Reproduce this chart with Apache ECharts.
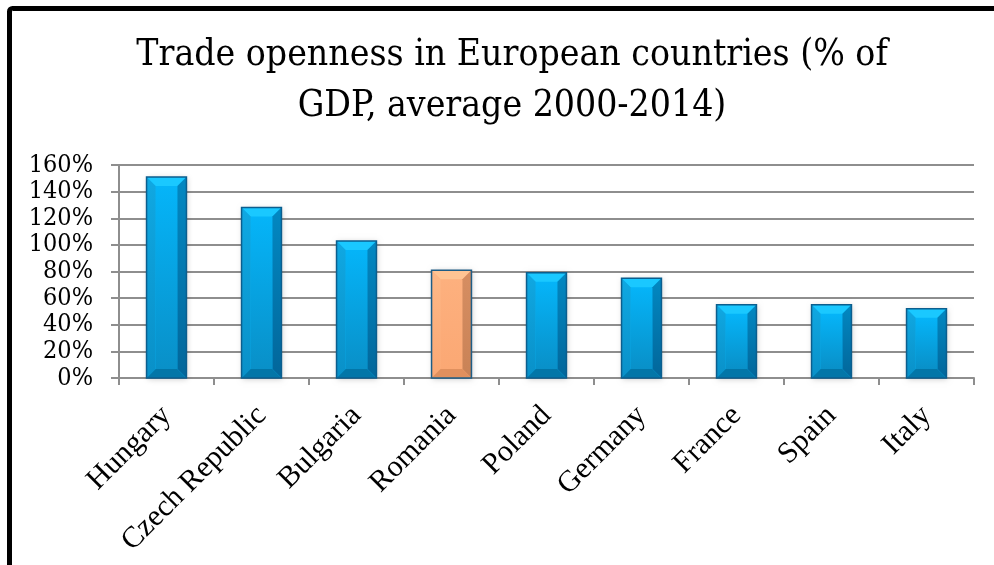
<!DOCTYPE html>
<html>
<head>
<meta charset="utf-8">
<script src="https://cdn.jsdelivr.net/npm/echarts@6/dist/echarts.min.js"></script>
<style>
  html, body { margin: 0; padding: 0; background: #fff; }
  #chart { width: 994px; height: 565px; }
</style>
</head>
<body>
<div id="chart"></div>
<script>
// Trade openness, % of GDP, average 2000-2014
const countries = ['Hungary', 'Czech Republic', 'Bulgaria', 'Romania', 'Poland', 'Germany', 'France', 'Spain', 'Italy'];
const openness = [151, 128, 103, 81, 79, 75, 55, 55, 52];
const highlighted = ['Romania'];
const yTicks = [0, 20, 40, 60, 80, 100, 120, 140, 160];

const palettes = {
  blue: {
    faceTop: '#05b4f8', faceBottom: '#0990c8',
    top: '#1ac8ff', left: '#10a8e2',
    rightTop: '#0288c2', rightBottom: '#02669a',
    bottom: '#0276a8', border: '#0b5e8e'
  },
  orange: {
    faceTop: '#fdb07e', faceBottom: '#fba874',
    top: '#ffc493', left: '#fdb887',
    rightTop: '#d68e62', rightBottom: '#c98256',
    bottom: '#e0905e', border: '#1e5d86'
  }
};

const chart = echarts.init(document.getElementById('chart'), null, { renderer: 'canvas' });

function bevelBar(params, api) {
  const cat = api.value(0);
  const val = api.value(1);
  const topPt = api.coord([cat, val]);
  const basePt = api.coord([cat, 0]);
  const w = api.size([1, 0])[0] * 0.42;
  const l = topPt[0] - w / 2, r = topPt[0] + w / 2;
  const t = topPt[1], b = basePt[1];
  const bv = Math.min(9, (b - t) / 3);
  const p = highlighted.includes(countries[params.dataIndex]) ? palettes.orange : palettes.blue;
  const vGrad = (c1, c2) => new echarts.graphic.LinearGradient(0, 0, 0, 1, [
    { offset: 0, color: c1 }, { offset: 1, color: c2 }
  ]);
  return {
    type: 'group',
    children: [
      { type: 'rect', shape: { x: l, y: t, width: w, height: b - t },
        style: { fill: p.faceTop, shadowBlur: 6, shadowColor: 'rgba(0,0,0,0.22)', shadowOffsetX: 1, shadowOffsetY: 1 } },
      { type: 'rect', shape: { x: l + bv, y: t + bv, width: w - 2 * bv, height: b - t - 2 * bv },
        style: { fill: vGrad(p.faceTop, p.faceBottom) } },
      { type: 'polygon', shape: { points: [[l, t], [r, t], [r - bv, t + bv], [l + bv, t + bv]] },
        style: { fill: p.top } },
      { type: 'polygon', shape: { points: [[l, t], [l + bv, t + bv], [l + bv, b - bv], [l, b]] },
        style: { fill: vGrad(p.left, p.faceBottom) } },
      { type: 'polygon', shape: { points: [[r, t], [r, b], [r - bv, b - bv], [r - bv, t + bv]] },
        style: { fill: vGrad(p.rightTop, p.rightBottom) } },
      { type: 'polygon', shape: { points: [[l, b], [l + bv, b - bv], [r - bv, b - bv], [r, b]] },
        style: { fill: p.bottom } },
      { type: 'rect', shape: { x: l, y: t, width: w, height: b - t },
        style: { fill: null, stroke: p.border, lineWidth: 1.5 } }
    ]
  };
}

const gridGray = '#8e8e8e';

chart.setOption({
  animation: false,
  backgroundColor: '#ffffff',
  title: {
    text: 'Trade openness in European countries (% of\nGDP, average 2000-2014)',
    left: 507,
    textAlign: 'center',
    top: 25,
    textStyle: {
      fontFamily: "'DejaVu Serif Condensed', 'DejaVu Serif', serif",
      fontWeight: 'normal',
      fontSize: 37,
      lineHeight: 51,
      color: '#000'
    }
  },
  graphic: [{
    type: 'rect',
    shape: { x: 9.5, y: 8.5, width: 1100, height: 700, r: 3 },
    style: { fill: null, stroke: '#000', lineWidth: 5 },
    z: 10
  }],
  grid: { left: 119, right: 20, top: 165, bottom: 187 },
  xAxis: {
    type: 'category',
    data: countries,
    boundaryGap: true,
    axisLine: { lineStyle: { color: gridGray, width: 2 } },
    axisTick: { show: true, alignWithLabel: false, length: 7, lineStyle: { color: gridGray, width: 2 } },
    axisLabel: {
      rotate: 45,
      interval: 0,
      margin: 33,
      fontFamily: "'Liberation Serif', 'Times New Roman', serif",
      fontSize: 30,
      color: '#000'
    }
  },
  yAxis: {
    type: 'value',
    min: yTicks[0],
    max: yTicks[yTicks.length - 1],
    interval: yTicks[1] - yTicks[0],
    axisLine: { show: true, lineStyle: { color: gridGray, width: 2 } },
    axisTick: { show: true, length: 8, lineStyle: { color: gridGray, width: 2 } },
    splitLine: { show: true, lineStyle: { color: gridGray, width: 2 } },
    axisLabel: {
      formatter: '{value}%',
      margin: 26,
      fontFamily: "'DejaVu Serif Condensed', 'DejaVu Serif', serif",
      fontSize: 25,
      color: '#000'
    }
  },
  series: [{
    type: 'custom',
    renderItem: bevelBar,
    encode: { x: 0, y: 1 },
    data: openness.map((v, i) => [countries[i], v])
  }]
});
</script>
</body>
</html>
